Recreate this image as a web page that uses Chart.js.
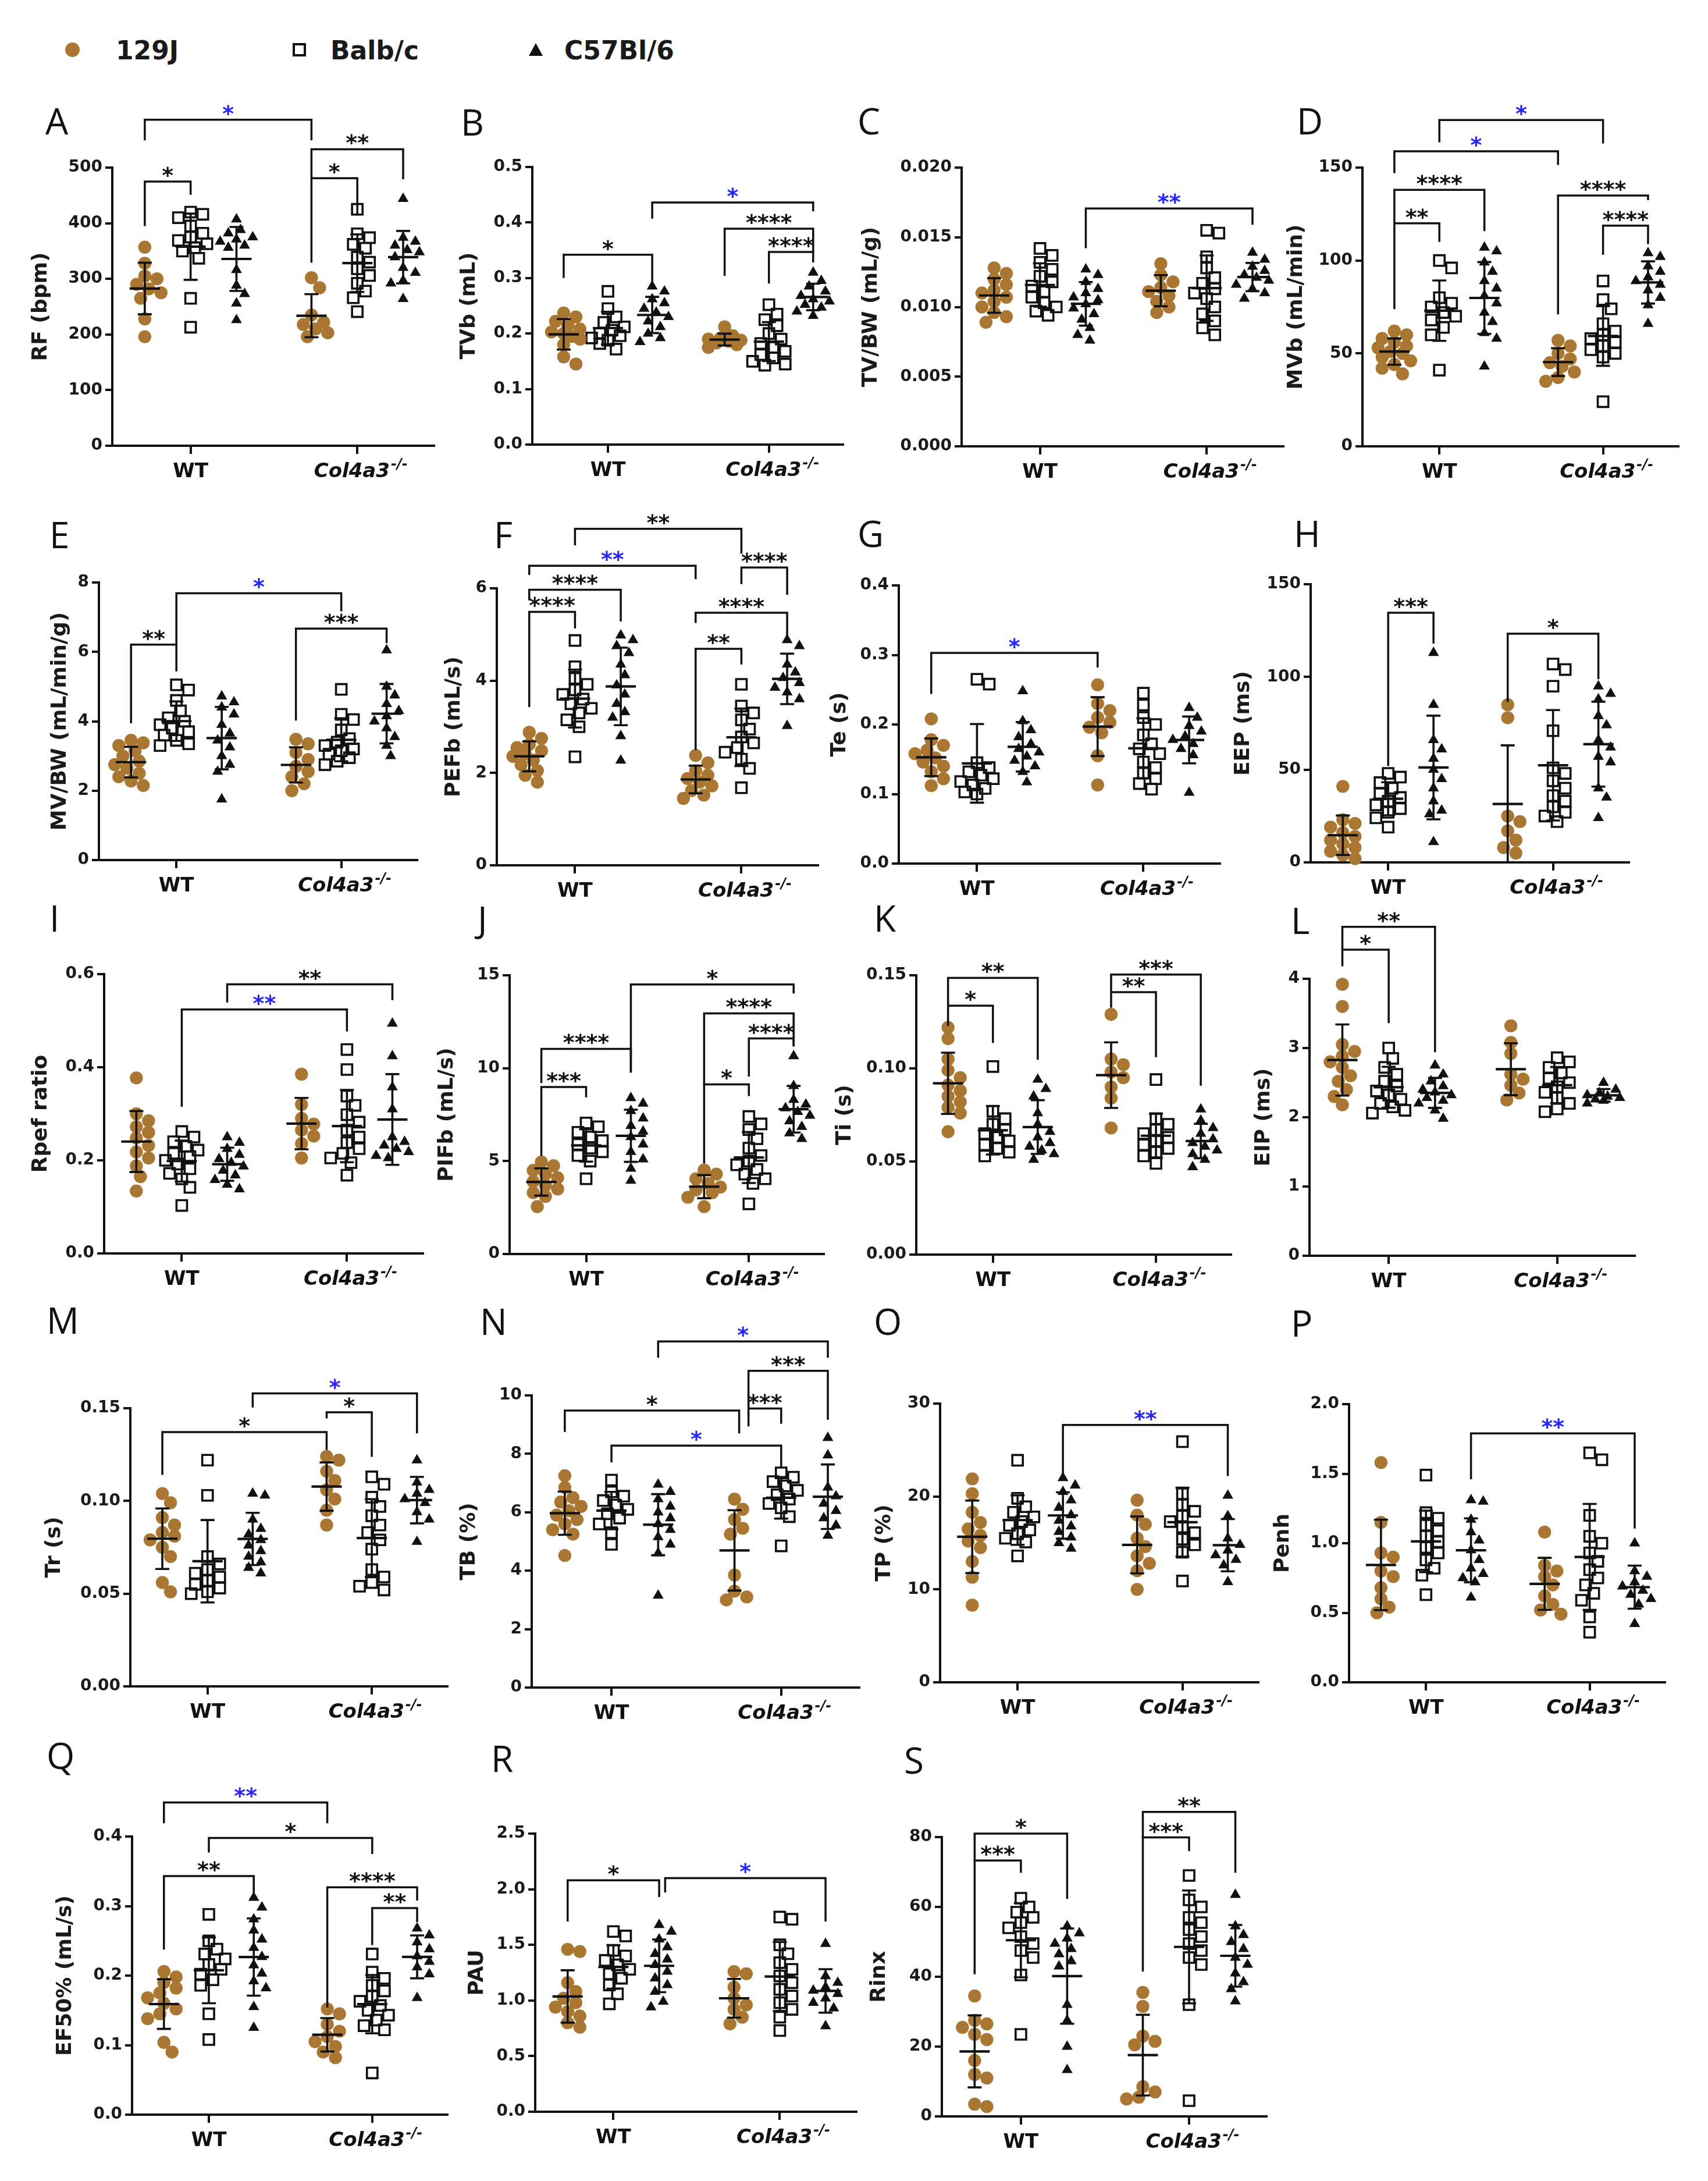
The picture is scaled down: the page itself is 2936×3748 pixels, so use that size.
<!DOCTYPE html>
<html><head><meta charset="utf-8">
<script src="https://cdn.jsdelivr.net/npm/chart.js@4.4.1/dist/chart.umd.min.js"></script>
<style>
html,body{margin:0;padding:0;background:#fff;}
#page{position:relative;width:2936px;height:3748px;overflow:hidden;background:#fff;}
.letter{position:absolute;font-family:'Open Sans',sans-serif;font-size:62px;line-height:1;color:#111;white-space:nowrap;}
.leg{position:absolute;font-family:'DejaVu Sans',sans-serif;font-weight:bold;font-size:44px;line-height:1;color:#1a1a1a;white-space:nowrap;}
canvas{position:absolute;}
</style></head>
<body><div id="page"></div>
<script>
// ---------- categories / legend ----------
const categories = ['WT', 'Col4a3'];
const categorySup = ['', '-/-'];
const strains = ['129J', 'Balb/c', 'C57Bl/6'];
// group order in every panel: WT-129J, WT-Balb/c, WT-C57Bl/6, Col-129J, Col-Balb/c, Col-C57Bl/6

// ---------- series values ----------
const RF = [
 [357, 328, 305, 300, 290, 282, 275, 265, 228, 196],
 [420, 416, 410, 395, 382, 375, 369, 363, 356, 350, 337, 265, 213],
 [407, 388, 382, 375, 371, 367, 360, 356, 316, 288, 273, 256, 226],
 [302, 284, 235, 222, 218, 210, 203, 196],
 [425, 381, 374, 362, 355, 339, 330, 318, 306, 292, 278, 266, 241],
 [444, 374, 367, 360, 352, 348, 339, 320, 311, 297, 292, 264]
];
const TVb = [
 [0.237, 0.230, 0.222, 0.215, 0.208, 0.203, 0.200, 0.195, 0.190, 0.180, 0.158, 0.145],
 [0.276, 0.245, 0.230, 0.220, 0.212, 0.206, 0.200, 0.196, 0.192, 0.188, 0.182, 0.172],
 [0.285, 0.276, 0.262, 0.255, 0.245, 0.238, 0.230, 0.222, 0.212, 0.200, 0.192, 0.185],
 [0.212, 0.196, 0.192, 0.190, 0.188, 0.186, 0.183, 0.180, 0.175],
 [0.252, 0.235, 0.225, 0.214, 0.200, 0.190, 0.182, 0.175, 0.168, 0.162, 0.156, 0.150, 0.145, 0.143],
 [0.310, 0.295, 0.285, 0.276, 0.268, 0.262, 0.258, 0.252, 0.247, 0.240, 0.232]
];
const TVBW = [
 [0.0128, 0.0124, 0.0120, 0.0116, 0.0112, 0.0110, 0.0107, 0.0104, 0.0100, 0.0096, 0.0093, 0.0089],
 [0.0142, 0.0137, 0.0132, 0.0127, 0.0122, 0.0118, 0.0115, 0.0111, 0.0107, 0.0103, 0.0100, 0.0097, 0.0094],
 [0.0127, 0.0123, 0.0118, 0.0113, 0.0110, 0.0107, 0.0105, 0.0102, 0.0099, 0.0095, 0.0091, 0.0085, 0.0080, 0.0076],
 [0.0131, 0.0123, 0.0118, 0.0114, 0.0111, 0.0108, 0.0104, 0.0100, 0.0096],
 [0.0155, 0.0153, 0.0136, 0.0128, 0.0121, 0.0117, 0.0113, 0.0110, 0.0106, 0.0100, 0.0095, 0.0090, 0.0085, 0.0080],
 [0.0139, 0.0134, 0.0129, 0.0126, 0.0123, 0.0121, 0.0119, 0.0116, 0.0113, 0.0110, 0.0106]
];
const MVb = [
 [62, 60, 58, 56, 54, 53, 51, 50, 48, 46, 44, 42, 39],
 [100, 96, 80, 77, 75, 72, 70, 68, 64, 60, 41],
 [107, 105, 99, 94, 89, 85, 81, 77, 72, 67, 61, 58, 43],
 [57, 54, 50, 47, 45, 43, 40, 37, 35],
 [89, 79, 74, 66, 62, 60, 58, 56, 54, 52, 50, 48, 24],
 [104, 102, 97, 94, 91, 89, 87, 84, 80, 76, 66]
];
const MVBW = [
 [3.45, 3.38, 3.30, 3.15, 3.00, 2.85, 2.75, 2.65, 2.50, 2.40, 2.28, 2.15],
 [5.05, 4.90, 4.60, 4.30, 4.10, 4.00, 3.90, 3.80, 3.70, 3.60, 3.45, 3.35, 3.30],
 [4.72, 4.55, 4.40, 4.20, 3.90, 3.65, 3.45, 3.25, 3.00, 2.75, 2.55, 1.75],
 [3.48, 3.35, 3.10, 2.90, 2.70, 2.55, 2.40, 2.20, 2.00],
 [4.92, 4.20, 4.05, 3.75, 3.50, 3.40, 3.30, 3.20, 3.15, 3.05, 2.95, 2.85, 2.75],
 [6.05, 5.00, 4.75, 4.50, 4.30, 4.15, 4.00, 3.80, 3.55, 3.30, 3.00]
];
const PEFb = [
 [2.88, 2.75, 2.62, 2.55, 2.48, 2.42, 2.36, 2.28, 2.18, 2.05, 1.95, 1.80],
 [4.87, 4.30, 4.05, 3.92, 3.80, 3.70, 3.60, 3.50, 3.40, 3.30, 3.15, 3.00, 2.35],
 [4.98, 4.88, 4.75, 4.60, 4.35, 4.12, 3.90, 3.70, 3.50, 3.32, 3.20, 2.80, 2.27],
 [2.38, 2.22, 2.05, 1.95, 1.88, 1.80, 1.72, 1.62, 1.52, 1.45],
 [3.92, 3.45, 3.30, 3.15, 2.95, 2.78, 2.65, 2.55, 2.45, 2.30, 2.10, 1.68],
 [4.88, 4.75, 4.35, 4.18, 4.06, 3.95, 3.85, 3.75, 3.60, 3.02]
];
const Te = [
 [0.208, 0.178, 0.170, 0.163, 0.158, 0.152, 0.146, 0.140, 0.132, 0.122, 0.112],
 [0.265, 0.258, 0.145, 0.138, 0.132, 0.127, 0.122, 0.118, 0.113, 0.108, 0.103, 0.100],
 [0.248, 0.205, 0.192, 0.182, 0.172, 0.165, 0.160, 0.154, 0.148, 0.140, 0.132, 0.117],
 [0.257, 0.230, 0.220, 0.210, 0.203, 0.196, 0.188, 0.155, 0.113],
 [0.245, 0.228, 0.210, 0.200, 0.185, 0.172, 0.165, 0.158, 0.146, 0.138, 0.130, 0.122, 0.115, 0.107],
 [0.224, 0.210, 0.198, 0.190, 0.183, 0.178, 0.172, 0.165, 0.156, 0.102]
];
const EEP = [
 [41, 23, 21, 19, 16, 14, 12, 10, 8, 6, 4, 2],
 [48, 46, 43, 40, 37, 35, 33, 31, 29, 27, 24, 19],
 [113, 85, 66, 61, 56, 50, 45, 40, 33, 28, 26, 11],
 [85, 78, 25, 22, 17, 12, 8, 5],
 [107, 104, 95, 71, 51, 48, 44, 40, 36, 33, 30, 27, 25, 22],
 [95, 91, 88, 79, 74, 66, 62, 57, 54, 40, 35, 24]
];
const Rpef = [
 [0.377, 0.300, 0.285, 0.272, 0.260, 0.248, 0.232, 0.218, 0.205, 0.188, 0.165, 0.134],
 [0.262, 0.250, 0.240, 0.230, 0.222, 0.215, 0.208, 0.200, 0.192, 0.182, 0.172, 0.160, 0.142, 0.103],
 [0.250, 0.238, 0.225, 0.212, 0.203, 0.195, 0.187, 0.178, 0.168, 0.158, 0.148, 0.138],
 [0.385, 0.320, 0.290, 0.278, 0.265, 0.252, 0.236, 0.205],
 [0.438, 0.395, 0.338, 0.318, 0.298, 0.282, 0.265, 0.250, 0.238, 0.225, 0.215, 0.205, 0.195, 0.168],
 [0.494, 0.424, 0.357, 0.310, 0.250, 0.240, 0.232, 0.225, 0.218, 0.210, 0.205]
];
const PIFb = [
 [4.95, 4.75, 4.50, 4.30, 4.10, 3.90, 3.70, 3.50, 3.30, 3.10, 2.55],
 [7.05, 6.85, 6.55, 6.30, 6.10, 5.90, 5.70, 5.50, 5.30, 5.00, 4.05],
 [8.40, 8.10, 7.70, 7.30, 6.90, 6.60, 6.30, 5.90, 5.50, 5.10, 4.60, 3.95],
 [4.52, 4.30, 4.05, 3.80, 3.60, 3.45, 3.30, 3.05, 2.55],
 [7.40, 7.00, 6.70, 6.20, 5.70, 5.30, 5.00, 4.80, 4.55, 4.30, 4.05, 3.80, 2.70],
 [10.65, 9.05, 8.30, 8.05, 7.85, 7.65, 7.45, 7.15, 6.85, 6.50, 6.20]
];
const Ti = [
 [0.122, 0.116, 0.105, 0.099, 0.095, 0.091, 0.088, 0.085, 0.082, 0.079, 0.076, 0.066],
 [0.101, 0.077, 0.073, 0.070, 0.067, 0.065, 0.063, 0.061, 0.059, 0.057, 0.055, 0.053],
 [0.094, 0.089, 0.085, 0.076, 0.070, 0.066, 0.063, 0.060, 0.058, 0.056, 0.054, 0.051],
 [0.129, 0.105, 0.102, 0.098, 0.095, 0.090, 0.084, 0.068],
 [0.094, 0.073, 0.070, 0.067, 0.065, 0.063, 0.061, 0.059, 0.057, 0.055, 0.053, 0.049],
 [0.078, 0.072, 0.068, 0.065, 0.062, 0.060, 0.058, 0.056, 0.054, 0.051, 0.047]
];
const EIP = [
 [3.92, 3.60, 3.05, 2.95, 2.88, 2.80, 2.72, 2.60, 2.52, 2.40, 2.30, 2.18],
 [3.00, 2.85, 2.72, 2.62, 2.52, 2.45, 2.38, 2.32, 2.26, 2.20, 2.15, 2.10, 2.06],
 [2.75, 2.62, 2.52, 2.45, 2.40, 2.36, 2.32, 2.28, 2.24, 2.20, 2.10, 1.98],
 [3.32, 3.08, 2.92, 2.62, 2.55, 2.46, 2.35, 2.25],
 [2.86, 2.80, 2.72, 2.64, 2.56, 2.50, 2.44, 2.36, 2.28, 2.20, 2.12, 2.08],
 [2.50, 2.40, 2.35, 2.32, 2.30, 2.28, 2.26, 2.24, 2.20]
];
const Tr = [
 [0.104, 0.099, 0.091, 0.087, 0.083, 0.081, 0.079, 0.075, 0.070, 0.056, 0.051],
 [0.122, 0.103, 0.070, 0.066, 0.063, 0.061, 0.059, 0.057, 0.055, 0.053, 0.051, 0.050],
 [0.104, 0.103, 0.090, 0.085, 0.082, 0.079, 0.076, 0.073, 0.070, 0.067, 0.064, 0.061],
 [0.124, 0.122, 0.116, 0.111, 0.106, 0.101, 0.095, 0.087],
 [0.113, 0.109, 0.102, 0.097, 0.092, 0.087, 0.083, 0.079, 0.074, 0.063, 0.059, 0.056, 0.054, 0.052],
 [0.122, 0.110, 0.106, 0.104, 0.101, 0.099, 0.094, 0.090, 0.078]
];
const TB = [
 [7.25, 6.85, 6.50, 6.35, 6.20, 6.05, 5.90, 5.75, 5.60, 5.40, 5.25, 4.52],
 [7.10, 6.70, 6.55, 6.40, 6.25, 6.10, 5.95, 5.80, 5.60, 5.30, 4.90],
 [6.95, 6.70, 6.45, 6.20, 6.00, 5.80, 5.60, 5.40, 5.15, 4.90, 4.60, 3.15],
 [6.45, 6.10, 5.75, 5.45, 5.25, 3.85, 3.30, 3.10, 3.00],
 [7.35, 7.20, 7.05, 6.90, 6.75, 6.60, 6.45, 6.30, 6.15, 5.85, 4.85],
 [8.55, 7.95, 6.85, 6.55, 6.30, 6.05, 5.80, 5.55, 5.20]
];
const TP = [
 [21.9, 20.3, 18.3, 17.2, 16.5, 15.8, 15.2, 14.5, 13.0, 11.3, 8.3],
 [23.9, 19.8, 18.9, 18.3, 17.8, 17.3, 16.9, 16.4, 16.0, 15.5, 15.1, 13.6],
 [22.0, 21.2, 20.5, 19.6, 18.8, 18.0, 17.4, 16.8, 16.2, 15.6, 15.0, 14.4],
 [19.6, 18.0, 17.0, 15.5, 14.6, 13.6, 12.8, 12.0, 10.0],
 [25.9, 20.3, 19.1, 18.4, 17.9, 17.3, 16.7, 16.1, 15.4, 14.8, 14.0, 10.9],
 [20.1, 17.9, 15.5, 14.8, 14.2, 13.7, 13.2, 12.6, 10.8]
];
const Penh = [
 [1.58, 1.15, 0.93, 0.90, 0.80, 0.76, 0.68, 0.60, 0.54, 0.50],
 [1.49, 1.22, 1.18, 1.13, 1.09, 1.05, 1.01, 0.97, 0.93, 0.88, 0.82, 0.77, 0.63],
 [1.31, 1.30, 1.17, 1.08, 1.02, 0.95, 0.88, 0.82, 0.78, 0.75, 0.72, 0.61],
 [1.08, 0.84, 0.80, 0.76, 0.70, 0.62, 0.56, 0.52, 0.49],
 [1.65, 1.60, 1.20, 1.05, 1.00, 0.93, 0.87, 0.81, 0.75, 0.70, 0.64, 0.59, 0.47, 0.36],
 [1.00, 0.80, 0.76, 0.72, 0.69, 0.66, 0.63, 0.60, 0.56, 0.42]
];
const EF50 = [
 [0.206, 0.198, 0.190, 0.182, 0.175, 0.168, 0.160, 0.152, 0.145, 0.138, 0.104, 0.090],
 [0.288, 0.250, 0.238, 0.231, 0.224, 0.216, 0.209, 0.202, 0.194, 0.186, 0.145, 0.108],
 [0.312, 0.298, 0.281, 0.265, 0.252, 0.240, 0.227, 0.215, 0.203, 0.192, 0.182, 0.155, 0.125],
 [0.152, 0.145, 0.130, 0.120, 0.112, 0.105, 0.098, 0.090, 0.082],
 [0.231, 0.205, 0.196, 0.186, 0.178, 0.170, 0.163, 0.157, 0.150, 0.143, 0.136, 0.128, 0.122, 0.060],
 [0.268, 0.258, 0.248, 0.238, 0.228, 0.220, 0.212, 0.202, 0.168]
];
const PAU = [
 [1.46, 1.44, 1.16, 1.08, 1.02, 0.98, 0.94, 0.90, 0.86, 0.80, 0.76],
 [1.62, 1.58, 1.45, 1.40, 1.36, 1.32, 1.28, 1.24, 1.20, 1.14, 1.06, 0.97],
 [1.68, 1.62, 1.55, 1.48, 1.42, 1.37, 1.32, 1.26, 1.20, 1.14, 1.08, 0.99, 0.94],
 [1.26, 1.24, 1.12, 1.02, 0.96, 0.92, 0.85, 0.79],
 [1.75, 1.73, 1.50, 1.42, 1.34, 1.28, 1.22, 1.16, 1.10, 1.04, 0.98, 0.92, 0.85, 0.73],
 [1.51, 1.22, 1.16, 1.12, 1.09, 1.06, 1.02, 0.98, 0.93, 0.77]
];
const Rinx = [
 [34.5, 27.5, 26.5, 25.5, 23.5, 22.0, 16.0, 12.0, 11.0, 3.5, 2.8],
 [62.5, 60.0, 58.5, 57.0, 55.5, 54.0, 51.5, 49.5, 47.5, 45.5, 40.5, 23.5],
 [54.5, 52.5, 51.0, 49.5, 48.0, 46.5, 44.5, 43.0, 32.0, 27.5, 20.0, 13.3],
 [35.5, 31.5, 23.0, 21.5, 20.5, 8.5, 7.0, 5.5, 5.0],
 [69.0, 62.0, 60.0, 57.0, 55.5, 53.5, 51.5, 49.5, 47.5, 45.5, 43.5, 32.0, 4.5],
 [63.5, 54.5, 52.0, 50.0, 48.0, 45.5, 43.5, 41.0, 38.5, 36.5, 33.0]
];

// ---------- y tick labels ----------
const RF_ticks = ['0','100','200','300','400','500'];
const TVb_ticks = ['0.0','0.1','0.2','0.3','0.4','0.5'];
const TVBW_ticks = ['0.000','0.005','0.010','0.015','0.020'];
const MVb_ticks = ['0','50','100','150'];
const MVBW_ticks = ['0','2','4','6','8'];
const PEFb_ticks = ['0','2','4','6'];
const Te_ticks = ['0.0','0.1','0.2','0.3','0.4'];
const EEP_ticks = ['0','50','100','150'];
const Rpef_ticks = ['0.0','0.2','0.4','0.6'];
const PIFb_ticks = ['0','5','10','15'];
const Ti_ticks = ['0.00','0.05','0.10','0.15'];
const EIP_ticks = ['0','1','2','3','4'];
const Tr_ticks = ['0.00','0.05','0.10','0.15'];
const TB_ticks = ['0','2','4','6','8','10'];
const TP_ticks = ['0','10','20','30'];
const Penh_ticks = ['0.0','0.5','1.0','1.5','2.0'];
const EF50_ticks = ['0.0','0.1','0.2','0.3','0.4'];
const PAU_ticks = ['0.0','0.5','1.0','1.5','2.0','2.5'];
const Rinx_ticks = ['0','20','40','60','80'];

// ---------- significance brackets: [group1, group2, top, leg1 end, leg2 end, label, colour] ----------
const RF_sig = [[0,3,586,549,549,'*','b'],[0,1,475,395,451,'*','k'],[3,5,533,481,479,'**','k'],[3,4,481,329,414,'*','k']];
const TVb_sig = [[0,2,0.342,0.300,0.290,'*','k'],[2,5,0.436,0.407,0.42,'*','b'],[3,5,0.389,0.304,0.346,'****','k'],[4,5,0.347,0.290,0.328,'****','k']];
const TVBW_sig = [[2,5,0.01707,0.01422,0.0159,'**','b']];
const MVb_sig = [[1,4,175.6,163.6,163,'*','b'],[0,3,158.8,147,151.4,'*','b'],[0,2,138,120,115.8,'****','k'],[0,1,120,73.8,110,'**','k'],[3,5,135,71,132.5,'****','k'],[4,5,118.8,103,108.8,'****','k']];
const MVBW_sig = [[0,1,6.21,3.94,5.44,'**','k'],[1,4,7.69,6.21,7.17,'*','b'],[3,5,6.67,4.02,6.25,'***','k']];
const PEFb_sig = [[1,4,7.29,6.93,6.75,'**','k'],[0,3,6.49,6.29,6.2,'**','b'],[0,2,5.97,5.74,5.28,'****','k'],[0,1,5.49,3.43,5.13,'****','k'],[4,5,6.45,6.09,5.86,'****','k'],[3,5,5.47,5.25,4.93,'****','k'],[3,4,4.69,2.5,4.35,'**','k']];
const Te_sig = [[0,3,0.303,0.244,0.282,'*','b']];
const EEP_sig = [[1,2,134.6,52,118,'***','k'],[3,5,123.3,86.5,98.8,'*','k']];
const Rpef_sig = [[2,5,0.578,0.539,0.544,'**','k'],[1,4,0.524,0.315,0.477,'**','b']];
const PIFb_sig = [[2,5,14.51,9.76,14.02,'*','k'],[0,2,11.04,9.2,9.76,'****','k'],[0,1,8.99,5.28,8.43,'***','k'],[3,5,12.95,9.13,11.23,'****','k'],[4,5,11.6,9.55,11.16,'****','k'],[3,4,9.13,4.87,8.5,'*','k']];
const Ti_sig = [[0,2,0.1486,0.1337,0.1046,'**','k'],[0,1,0.1337,0.1228,0.1137,'*','k'],[3,5,0.1504,0.1409,0.0907,'***','k'],[3,4,0.1409,0.1326,0.106,'**','k']];
const EIP_sig = [[0,2,4.75,4.42,2.94,'**','k'],[0,1,4.42,4.18,3.36,'*','k']];
const Tr_sig = [[2,5,0.158,0.1504,0.1364,'*','b'],[3,4,0.1478,0.1445,0.1238,'*','k'],[0,3,0.1371,0.1141,0.1275,'*','k']];
const TB_sig = [[2,5,11.85,11.29,11.29,'*','b'],[3.3,5,10.84,9.55,9.17,'***','k'],[3.3,4,9.55,8.94,9.03,'***','k'],[0,3.1,9.48,8.75,8.7,'*','k'],[1,4,8.28,7.71,7.53,'*','b']];
const TP_sig = [[2,5,27.7,22.2,22.2,'**','b']];
const Penh_sig = [[2,5,1.79,1.46,1.106,'**','b']];
const EF50_sig = [[0,3,0.449,0.419,0.419,'**','b'],[1,4,0.398,0.377,0.375,'*','k'],[0,2,0.343,0.2375,0.319,'**','k'],[3,5,0.327,0.154,0.308,'****','k'],[4,5,0.297,0.244,0.277,'**','k']];
const PAU_sig = [[0,2,2.08,1.71,1.93,'*','k'],[2.08,5,2.10,1.97,1.71,'*','b']];
const Rinx_sig = [[0,2,81,73.3,62.3,'*','k'],[0,1,73.3,40.7,69.8,'***','k'],[3,5,87.2,79.9,69.8,'**','k'],[3,4,79.9,41.5,76,'***','k']];

// ---------- layout (pixels on the page) ----------
const panels = [
 {letter:'A', title:'RF (bpm)',         data:RF,   ticks:RF_ticks,   sig:RF_sig,   box:[193,746,288,766],   lp:[83,188],    toff:122},
 {letter:'B', title:'TVb (mL)',         data:TVb,  ticks:TVb_ticks,  sig:TVb_sig,  box:[915,1449,287,764],  lp:[797,190],   toff:108},
 {letter:'C', title:'TV/BW (mL/g)',     data:TVBW, ticks:TVBW_ticks, sig:TVBW_sig, box:[1653,2206,288,767], lp:[1479,188],  toff:155},
 {letter:'D', title:'MVb (mL/min)',     data:MVb,  ticks:MVb_ticks,  sig:MVb_sig,  box:[2342,2885,288,767], lp:[2234,188],  toff:113},
 {letter:'E', title:'MV/BW (mL/min/g)', data:MVBW, ticks:MVBW_ticks, sig:MVBW_sig, box:[170,717,1001,1478], lp:[90,899],    toff:66},
 {letter:'F', title:'PEFb (mL/s)',      data:PEFb, ticks:PEFb_ticks, sig:PEFb_sig, box:[854,1406,1011,1487],lp:[854,899],   toff:73},
 {letter:'G', title:'Te (s)',           data:Te,   ticks:Te_ticks,   sig:Te_sig,   box:[1545,2097,1006,1484],lp:[1479,897], toff:101},
 {letter:'H', title:'EEP (ms)',         data:EEP,  ticks:EEP_ticks,  sig:EEP_sig,  box:[2253,2800,1004,1482],lp:[2229,897], toff:115},
 {letter:'I', title:'Rpef ratio',       data:Rpef, ticks:Rpef_ticks, sig:Rpef_sig, box:[179,727,1674,2154], lp:[90,1558],   toff:108},
 {letter:'J', title:'PIFb (mL/s)',      data:PIFb, ticks:PIFb_ticks, sig:PIFb_sig, box:[876,1416,1676,2155],lp:[826,1560],  toff:107},
 {letter:'K', title:'Ti (s)',           data:Ti,   ticks:Ti_ticks,   sig:Ti_sig,   box:[1575,2116,1676,2156],lp:[1507,1558],toff:122},
 {letter:'L', title:'EIP (ms)',         data:EIP,  ticks:EIP_ticks,  sig:EIP_sig,  box:[2251,2810,1682,2158],lp:[2224,1562],toff:78},
 {letter:'M', title:'Tr (s)',           data:Tr,   ticks:Tr_ticks,   sig:Tr_sig,   box:[224,769,2420,2898], lp:[85,2249],   toff:130},
 {letter:'N', title:'TB (%)',           data:TB,   ticks:TB_ticks,   sig:TB_sig,   box:[914,1477,2398,2900],lp:[830,2251],  toff:107},
 {letter:'O', title:'TP (%)',           data:TP,   ticks:TP_ticks,   sig:TP_sig,   box:[1616,2163,2412,2891],lp:[1507,2251],toff:95},
 {letter:'P', title:'Penh',             data:Penh, ticks:Penh_ticks, sig:Penh_sig, box:[2319,2862,2413,2891],lp:[2224,2254],toff:113},
 {letter:'Q', title:'EF50% (mL/s)',     data:EF50, ticks:EF50_ticks, sig:EF50_sig, box:[227,769,3156,3634], lp:[85,2997],   toff:114},
 {letter:'R', title:'PAU',              data:PAU,  ticks:PAU_ticks,  sig:PAU_sig,  box:[920,1472,3151,3629],lp:[849,3002],  toff:99},
 {letter:'S', title:'Rinx',             data:Rinx, ticks:Rinx_ticks, sig:Rinx_sig, box:[1619,2177,3157,3637],lp:[1559,3005],toff:107}
];

// ---------- style ----------
const BROWN = '#aa7732', BLACK = '#111111', BLUE = '#2424ff';
const XMIN = 0.53, XMAX = 2.46, OFF = 0.275;
const GX = [1 - OFF, 1, 1 + OFF, 2 - OFF, 2, 2 + OFF];
const PAD_L = 200, PAD_T = 250, PAD_R = 40, PAD_B = 100;
const FONT = "'DejaVu Sans', sans-serif";

function gx(i) { const a = Math.min(Math.floor(i), 5), b = Math.min(a + 1, 5), f = i - a; return GX[a] + (GX[b] - GX[a]) * f; }
function mean(v) { return v.reduce((s, x) => s + x, 0) / v.length; }
function sd(v) { const m = mean(v); return Math.sqrt(v.reduce((s, x) => s + (x - m) * (x - m), 0) / (v.length - 1)); }

// horizontal spreading of points (beeswarm-like), in pixels converted to axis units
function swarm(vals, pxY, pxX, cx) {
  const idx = vals.map((v, i) => i).sort((a, b) => vals[b] - vals[a]);
  const placed = [], out = new Array(vals.length);
  const step = 7, minD = 19, maxOff = 28;
  const cands = [0];
  for (let k = 1; k * step <= maxOff; k++) cands.push(k * step, -k * step);
  for (const i of idx) {
    const y = vals[i] * pxY;
    let best = 0, bestD = -1;
    for (const dx of cands) {
      let d = Infinity;
      for (const p of placed) d = Math.min(d, Math.hypot(p.x - dx, p.y - y));
      if (d >= minD) { best = dx; break; }
      if (d > bestD) { bestD = d; best = dx; }
    }
    placed.push({ x: best, y });
    out[i] = cx + best / pxX;
  }
  return out;
}

const page = document.getElementById('page');
Chart.defaults.font.family = FONT;

// legend
(function legend() {
  const marks = [
    `position:absolute;left:112px;top:73px;width:25px;height:25px;border-radius:50%;background:${BROWN}`,
    `position:absolute;left:503px;top:74px;width:23px;height:23px;border:4px solid ${BLACK};box-sizing:border-box`,
    `position:absolute;left:909px;top:74px;width:0;height:0;border-left:12px solid transparent;border-right:12px solid transparent;border-bottom:22px solid ${BLACK}`
  ];
  const textX = [199, 568, 970];
  strains.forEach((s, i) => {
    const m = document.createElement('div'); m.style.cssText = marks[i]; page.appendChild(m);
    const t = document.createElement('div'); t.className = 'leg'; t.style.left = textX[i] + 'px'; t.style.top = '65px'; t.textContent = s; page.appendChild(t);
  });
})();

function makePanel(p) {
  const [L, R, T, B] = p.box;
  const W = R - L, H = B - T;
  const canvas = document.createElement('canvas');
  canvas.width = W + PAD_L + PAD_R; canvas.height = H + PAD_T + PAD_B;
  canvas.style.left = (L - PAD_L) + 'px'; canvas.style.top = (T - PAD_T) + 'px';
  canvas.style.width = canvas.width + 'px'; canvas.style.height = canvas.height + 'px';
  page.appendChild(canvas);

  const lt = document.createElement('div'); lt.className = 'letter';
  lt.style.left = (p.lp[0] - 5) + 'px'; lt.style.top = (p.lp[1] - 12) + 'px'; lt.textContent = p.letter;
  page.appendChild(lt);

  const tickVals = p.ticks.map(Number);
  const yMax = tickVals[tickVals.length - 1];
  const pxY = H / yMax, pxX = W / (XMAX - XMIN);
  const styles = [
    { pointStyle: 'circle', pointRadius: 11.2, pointBackgroundColor: BROWN, pointBorderColor: BROWN, pointBorderWidth: 0 },
    { pointStyle: 'rect', pointRadius: 12.8, pointBackgroundColor: 'rgba(255,255,255,0)', pointBorderColor: BLACK, pointBorderWidth: 3.6 },
    { pointStyle: 'triangle', pointRadius: 10.8, pointBackgroundColor: BLACK, pointBorderColor: BLACK, pointBorderWidth: 0 }
  ];
  const datasets = p.data.map((vals, g) => {
    const xs = swarm(vals, pxY, pxX, gx(g));
    return Object.assign({ label: strains[g % 3] + ' ' + categories[Math.floor(g / 3)], data: vals.map((v, i) => ({ x: xs[i], y: v })), showLine: false, clip: false }, styles[g % 3]);
  });

  const plugin = {
    id: 'deco' + p.letter,
    afterDatasetsDraw(chart) {
      const ctx = chart.ctx, xs = chart.scales.x, ys = chart.scales.y;
      ctx.save(); ctx.strokeStyle = BLACK; ctx.lineCap = 'butt';
      p.data.forEach((vals, g) => {
        const m = mean(vals), s = sd(vals);
        const cx = xs.getPixelForValue(gx(g));
        const ym = ys.getPixelForValue(m), yt = ys.getPixelForValue(m + s), yb = ys.getPixelForValue(Math.max(m - s, 0));
        ctx.lineWidth = 3.6;
        ctx.beginPath(); ctx.moveTo(cx, yt); ctx.lineTo(cx, yb);
        ctx.moveTo(cx - 12, yt); ctx.lineTo(cx + 12, yt);
        ctx.moveTo(cx - 12, yb); ctx.lineTo(cx + 12, yb); ctx.stroke();
        ctx.lineWidth = 4.2;
        ctx.beginPath(); ctx.moveTo(cx - 26, ym); ctx.lineTo(cx + 26, ym); ctx.stroke();
      });
      ctx.restore();
    },
    afterDraw(chart) {
      const ctx = chart.ctx, xs = chart.scales.x, ys = chart.scales.y;
      ctx.save();
      // brackets
      for (const b of p.sig) {
        const [i1, i2, top, l1, l2, label, col] = b;
        const x1 = xs.getPixelForValue(gx(i1)), x2 = xs.getPixelForValue(gx(i2));
        const yT = ys.getPixelForValue(top), y1 = ys.getPixelForValue(l1), y2 = ys.getPixelForValue(l2);
        ctx.strokeStyle = BLACK; ctx.lineWidth = 3.5; ctx.lineJoin = 'miter';
        ctx.beginPath(); ctx.moveTo(x1, y1); ctx.lineTo(x1, yT); ctx.lineTo(x2, yT); ctx.lineTo(x2, y2); ctx.stroke();
        ctx.fillStyle = col === 'b' ? BLUE : BLACK;
        ctx.font = `bold 38px ${FONT}`; ctx.textAlign = 'center'; ctx.textBaseline = 'alphabetic';
        const mt = ctx.measureText(label);
        ctx.fillText(label, (x1 + x2) / 2, yT - 8 - mt.actualBoundingBoxDescent);
      }
      // category labels
      const yb = chart.chartArea.bottom + 54;
      ctx.fillStyle = BLACK; ctx.textBaseline = 'alphabetic';
      categories.forEach((c, i) => {
        const cx = xs.getPixelForValue(i + 1);
        const mainFont = i === 0 ? `bold 34px ${FONT}` : `italic bold 34px ${FONT}`;
        const supFont = `italic bold 24px ${FONT}`;
        ctx.font = mainFont; const w1 = ctx.measureText(c).width;
        ctx.font = supFont; const w2 = categorySup[i] ? ctx.measureText(categorySup[i]).width + 2 : 0;
        const x0 = cx - (w1 + w2) / 2 + (w2 ? 6 : 0);
        ctx.textAlign = 'left';
        ctx.font = mainFont; ctx.fillText(c, x0, yb);
        if (w2) { ctx.font = supFont; ctx.fillText(categorySup[i], x0 + w1 + 2, yb - 15); }
      });
      ctx.restore();
    }
  };

  new Chart(canvas, {
    type: 'scatter',
    data: { datasets },
    options: {
      responsive: false, animation: false, devicePixelRatio: 1, events: [],
      layout: { padding: { top: PAD_T, right: PAD_R, left: 0, bottom: 0 } },
      plugins: { legend: { display: false }, tooltip: { enabled: false } },
      scales: {
        x: {
          type: 'linear', min: XMIN, max: XMAX,
          afterBuildTicks: (s) => { s.ticks = categories.map((c, i) => ({ value: i + 1 })); },
          afterFit: (s) => { s.height = PAD_B; },
          ticks: { callback: () => '', padding: 0, autoSkip: false },
          grid: { display: true, drawOnChartArea: false, drawTicks: true, tickLength: 14, color: BLACK, lineWidth: 4, tickWidth: 4, tickColor: BLACK },
          border: { display: true, color: BLACK, width: 4 }
        },
        y: {
          type: 'linear', min: 0, max: yMax,
          afterBuildTicks: (s) => { s.ticks = tickVals.map(v => ({ value: v })); },
          afterFit: (s) => { s.width = PAD_L; },
          ticks: { callback: (v, i) => p.ticks[i], autoSkip: false, padding: 5, color: '#1a1a1a', font: { family: FONT, size: 28, weight: 'bold' } },
          grid: { display: true, drawOnChartArea: false, drawTicks: true, tickLength: 12, color: BLACK, lineWidth: 4, tickWidth: 4, tickColor: BLACK },
          border: { display: true, color: BLACK, width: 4 },
          title: { display: true, text: p.title, color: '#1a1a1a', font: { family: FONT, size: 36, weight: 'bold' }, padding: { top: PAD_L - p.toff - 21.6, bottom: 0 } }
        }
      }
    },
    plugins: [plugin]
  });
}

panels.forEach(makePanel);
</script>
</body></html>
